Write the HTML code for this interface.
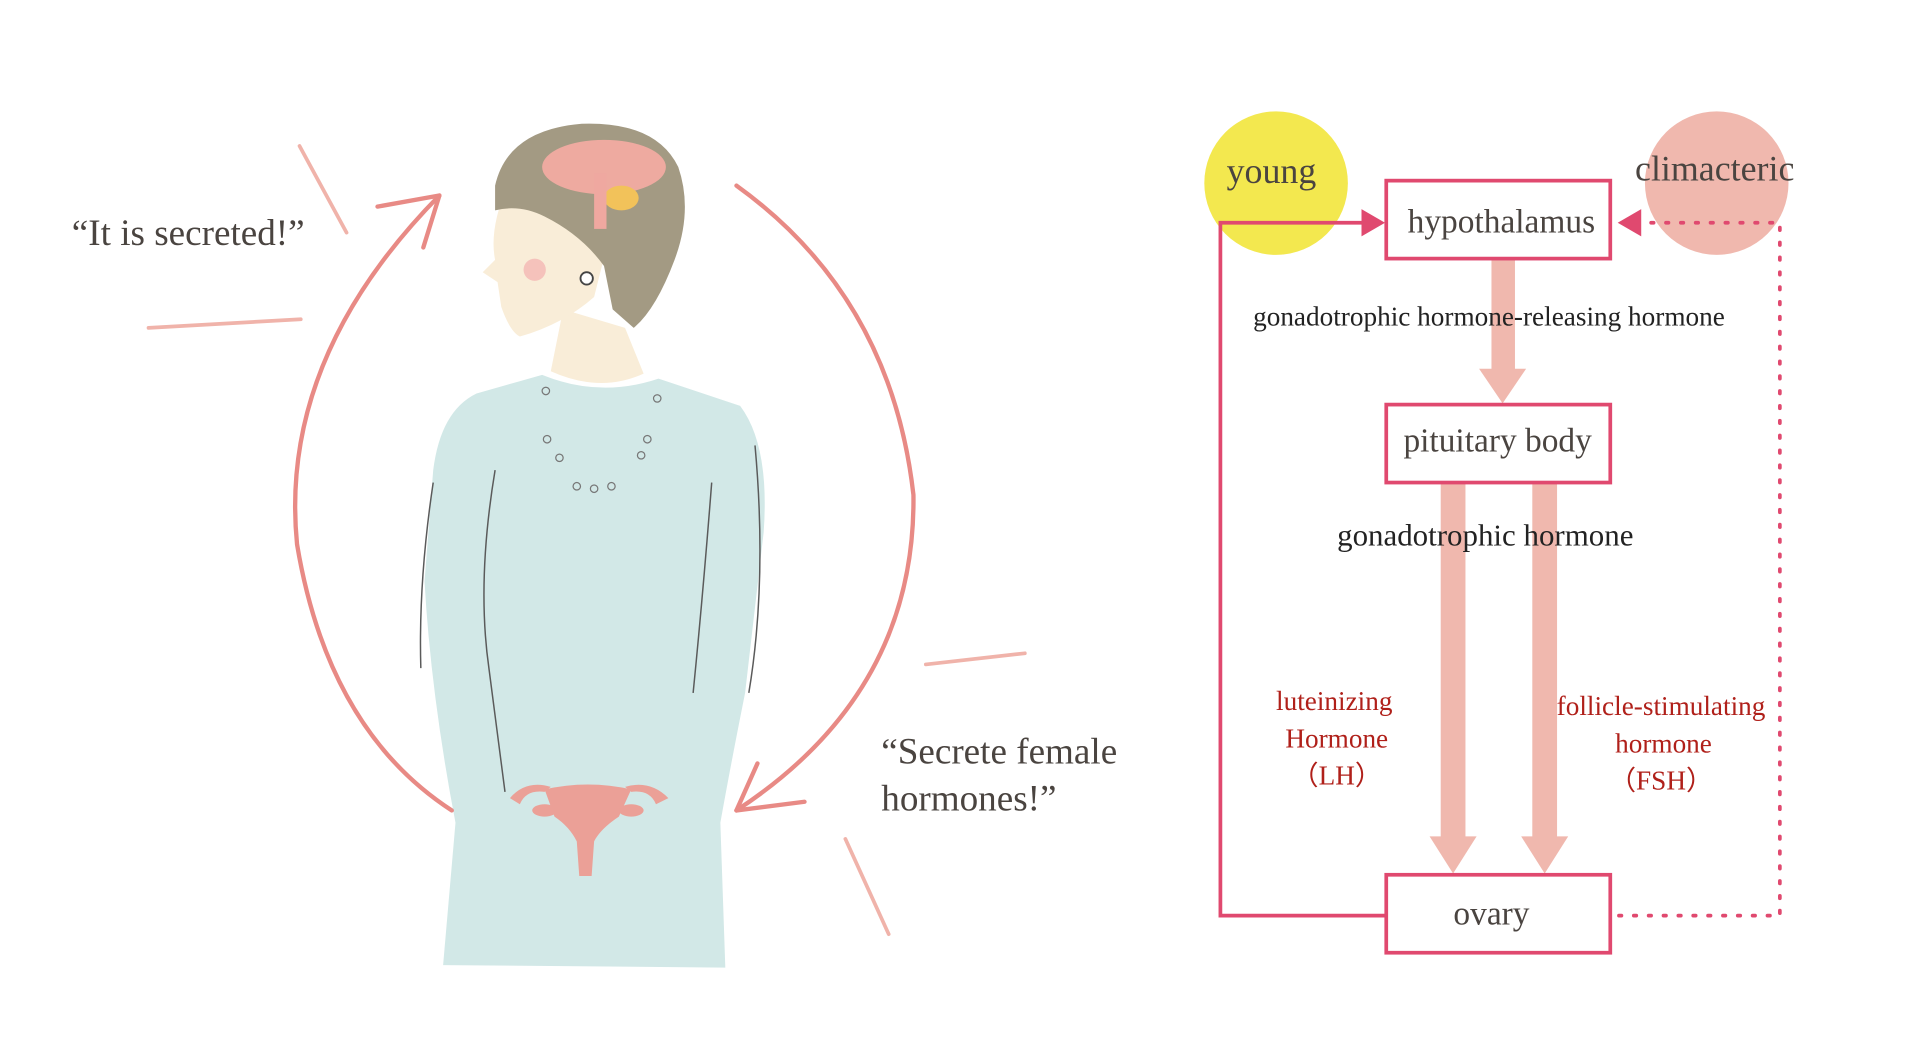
<!DOCTYPE html>
<html><head><meta charset="utf-8"><style>
html,body{margin:0;padding:0;background:#fff;}
svg{display:block;}
text{font-family:"Liberation Serif",serif;}
</style></head><body>
<svg width="1916" height="1048" viewBox="0 0 1548 847" preserveAspectRatio="none" xmlns="http://www.w3.org/2000/svg">
<rect width="1548" height="847" fill="#fff"/>
<!-- decorative strokes -->
<g stroke="#f0b3aa" stroke-width="3" fill="none" stroke-linecap="round">
<line x1="242" y1="118" x2="280" y2="188"/>
<line x1="120" y1="265" x2="243" y2="258"/>
<line x1="748" y1="537" x2="828" y2="528"/>
<line x1="683" y1="678" x2="718" y2="755"/>
</g>
<!-- dress -->
<path d="M438,303 Q485,322 532,306 L598,328 Q622,360 617,430 L602,560 Q590,620 582,665 L586,782 L358,780 L368,665 Q348,560 343,470 L350,380 Q356,332 385,318 Z" fill="#d2e8e7"/>
<g stroke="#5a5a5a" stroke-width="1.2" fill="none">
<path d="M350,390 Q338,470 340,540"/><path d="M400,380 Q385,470 395,540 L408,640"/>
<path d="M610,360 Q620,470 605,560"/><path d="M575,390 Q568,480 560,560"/>
</g>
<!-- necklace dots -->
<g fill="none" stroke="#777" stroke-width="1">
<circle cx="441" cy="316" r="3"/><circle cx="442" cy="355" r="3"/><circle cx="452" cy="370" r="3"/><circle cx="466" cy="393" r="3"/><circle cx="480" cy="395" r="3"/><circle cx="494" cy="393" r="3"/><circle cx="518" cy="368" r="3"/><circle cx="523" cy="355" r="3"/><circle cx="531" cy="322" r="3"/>
</g>
<!-- neck & face -->
<path d="M455,250 L445,300 Q485,318 520,302 L505,265 Z" fill="#f9edd8"/>
<path d="M410,150 Q395,185 400,210 L390,220 L402,228 L405,248 Q412,268 420,272 Q455,262 480,240 L495,180 Z" fill="#f9edd8"/>
<circle cx="432" cy="218" r="9" fill="#f4b7b4" opacity="0.8"/>
<!-- hair -->
<path d="M400,150 Q410,105 470,100 Q530,98 548,135 Q560,170 545,210 Q530,250 512,265 L495,250 L488,215 Q470,190 440,175 Q420,165 400,170 Z" fill="#a39a83"/>
<ellipse cx="488" cy="135" rx="50" ry="22" fill="#eeaaa0"/>
<ellipse cx="502" cy="160" rx="14" ry="10" fill="#f2c25a"/>
<rect x="480" y="140" width="10" height="45" fill="#efa8a0"/>
<circle cx="474" cy="225" r="5" fill="#fff" stroke="#444" stroke-width="1.5"/>
<!-- uterus -->
<g fill="#eba097">
<path d="M440,638 Q475,630 510,638 L500,660 Q485,670 480,680 L478,708 L468,708 L466,680 Q460,668 448,660 Z"/>
<path d="M412,645 Q425,630 445,636 L440,640 Q425,638 420,650 Z"/>
<path d="M540,645 Q525,630 505,636 L510,640 Q525,638 530,650 Z"/>
<ellipse cx="440" cy="655" rx="10" ry="5"/><ellipse cx="510" cy="655" rx="10" ry="5"/>
</g>
<!-- cycle arrows -->
<g stroke="#e88a85" stroke-width="3.5" fill="none" stroke-linecap="round">
<path d="M365,655 Q265,590 240,440 Q225,290 355,158"/>
<path d="M355,158 L305,167"/><path d="M355,158 L342,200"/>
<path d="M595,150 Q720,240 738,400 Q740,560 595,655"/>
<path d="M595,655 L650,648"/><path d="M595,655 L612,617"/>
</g>
<!-- speech texts -->
<g fill="#4a4440" font-size="30">
<text x="58" y="198">“It is secreted!”</text>
<text x="712" y="617">“Secrete female</text>
<text x="712" y="655">hormones!”</text>
</g>
<!-- circles -->
<circle cx="1031" cy="148" r="58" fill="#f3e84f"/>
<circle cx="1387" cy="148" r="58" fill="#f0b8ae"/>
<g fill="#4a4440" font-size="29">
<text x="991" y="148">young</text>
<text x="1321" y="146">climacteric</text>
</g>
<!-- thick arrows -->
<g fill="#f0b8ae">
<rect x="1205" y="210" width="19" height="90"/>
<polygon points="1195,298 1233,298 1214,326"/>
<rect x="1164" y="391" width="20" height="287"/>
<polygon points="1155,676 1193,676 1174,706"/>
<rect x="1238" y="391" width="20" height="287"/>
<polygon points="1229,676 1267,676 1248,706"/>
</g>
<!-- connectors -->
<g stroke="#e0496f" stroke-width="3" fill="none">
<polyline points="1119,740 986,740 986,180 1103,180"/>
</g>
<polygon points="1100,169 1119,180 1100,191" fill="#e0496f"/>
<polygon points="1326,169 1307,180 1326,191" fill="#e0496f"/>
<g stroke="#e0496f" stroke-width="3" fill="none" stroke-dasharray="2,10" stroke-linecap="round">
<polyline points="1334,180 1438,180 1438,740 1308,740"/>
</g>
<!-- boxes -->
<g fill="#fff" stroke="#e0496f" stroke-width="3">
<rect x="1120" y="146" width="181" height="63"/>
<rect x="1120" y="327" width="181" height="63"/>
<rect x="1120" y="707" width="181" height="63"/>
</g>
<g fill="#4a4440" font-size="27" text-anchor="middle">
<text x="1213" y="188">hypothalamus</text>
<text x="1210" y="365">pituitary body</text>
<text x="1205" y="747">ovary</text>
</g>
<g fill="#222" text-anchor="middle">
<text x="1203" y="263" font-size="22">gonadotrophic hormone-releasing hormone</text>
<text x="1200" y="441" font-size="25">gonadotrophic hormone</text>
</g>
<g fill="#b0201a" font-size="22" text-anchor="middle">
<text x="1078" y="574">luteinizing</text>
<text x="1080" y="604">Hormone</text>
<text x="1080" y="634">（LH）</text>
<text x="1342" y="578">follicle-stimulating</text>
<text x="1344" y="608">hormone</text>
<text x="1342" y="638">（FSH）</text>
</g>
</svg>
</body></html>
